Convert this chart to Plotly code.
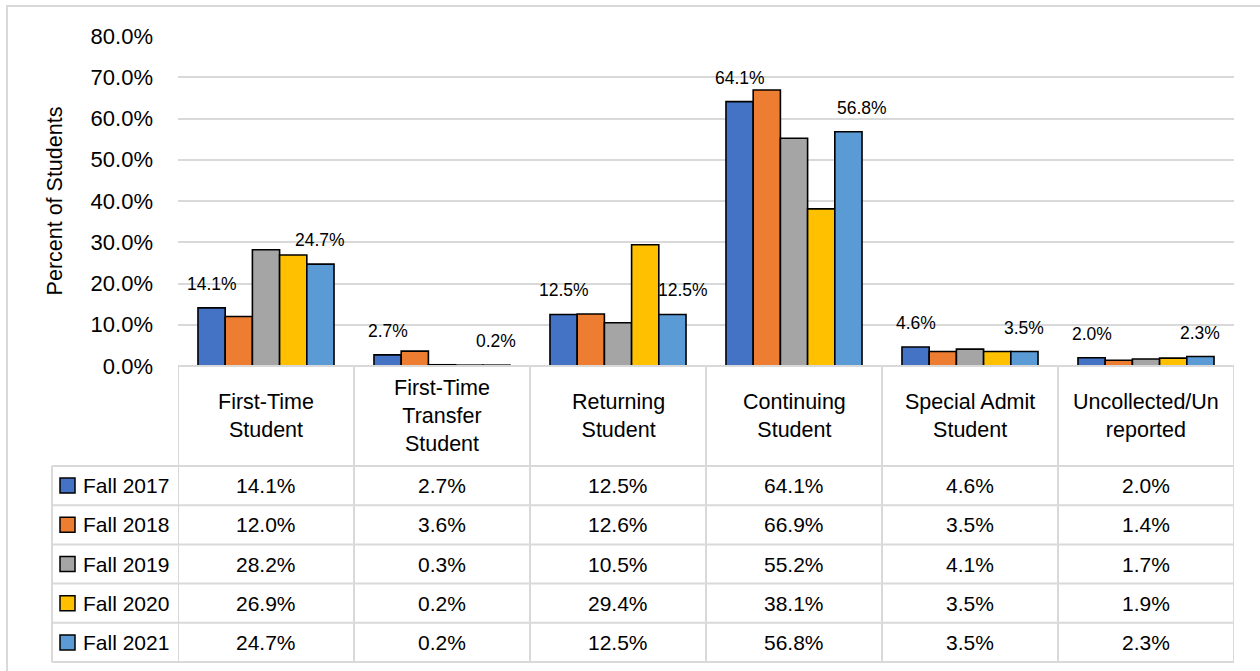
import plotly.graph_objects as go

categories = ["First-Time<br>Student", "First-Time<br>Transfer<br>Student", "Returning<br>Student",
              "Continuing<br>Student", "Special Admit<br>Student", "Uncollected/Un<br>reported"]
series_names = ["Fall 2017", "Fall 2018", "Fall 2019", "Fall 2020", "Fall 2021"]
fall_2017 = [14.1, 2.7, 12.5, 64.1, 4.6, 2.0]
fall_2018 = [12.0, 3.6, 12.6, 66.9, 3.5, 1.4]
fall_2019 = [28.2, 0.3, 10.5, 55.2, 4.1, 1.7]
fall_2020 = [26.9, 0.2, 29.4, 38.1, 3.5, 1.9]
fall_2021 = [24.7, 0.2, 12.5, 56.8, 3.5, 2.3]
series_values = [fall_2017, fall_2018, fall_2019, fall_2020, fall_2021]
colors = ["#4472C4", "#ED7D31", "#A5A5A5", "#FFC000", "#5B9BD5"]
labelled_series = [0, 4]
# small horizontal nudges for Fall 2021 labels (px), style only
label_xnudge_2021 = [0, 0, 11, 14, 0, 0]

FONT = "Liberation Sans, Arial, sans-serif"
W, H = 1260, 671
L, R, T, B = 178, 1234, 36, 366  # plot area in px
BARGAP = 0.227
n = len(categories)
xs = list(range(n))

def py(p):  # pixel y -> paper y
    return (B - p) / (B - T)

def px(p):  # pixel x -> paper x
    return (p - L) / (R - L)

fig = go.Figure()
for s, (name, vals, col) in enumerate(zip(series_names, series_values, colors)):
    fig.add_trace(go.Bar(x=xs, y=vals, name=name, marker=dict(color=col, line=dict(color="#000000", width=1.6)),
                         showlegend=False, hoverinfo="y"))

annotations = []
shapes = []
bw = (1 - BARGAP) / len(series_names)
for s in labelled_series:
    for i, v in enumerate(series_values[s]):
        annotations.append(dict(x=i + (s - 2) * bw, y=v, xref="x", yref="y", text=f"{v:.1f}%",
                                showarrow=False, yanchor="bottom", yshift=12,
                                xshift=label_xnudge_2021[i] if s == 4 else 0,
                                font=dict(size=17.5, family=FONT, color="#000")))

grid = "#d9d9d9"
TXT = 21
# table geometry (px)
header_top, header_bot = 366, 466
row_h = 39.2
rows_y = [header_bot + k * row_h for k in range(len(series_names) + 1)]
leg_left = 52

# horizontal lines
shapes.append(dict(type="line", xref="paper", yref="paper", x0=px(L), x1=px(R), y0=py(header_top), y1=py(header_top),
                   line=dict(color=grid, width=2)))
for yy in rows_y:
    shapes.append(dict(type="line", xref="paper", yref="paper", x0=px(leg_left), x1=px(R), y0=py(yy), y1=py(yy),
                       line=dict(color=grid, width=2)))
# vertical lines
for i in range(n + 1):
    shapes.append(dict(type="line", xref="x", yref="paper", x0=i - 0.5, x1=i - 0.5, y0=py(header_top), y1=py(rows_y[-1]),
                       line=dict(color=grid, width=2)))
shapes.append(dict(type="line", xref="paper", yref="paper", x0=px(leg_left), x1=px(leg_left), y0=py(rows_y[0]), y1=py(rows_y[-1]),
                   line=dict(color=grid, width=2)))
# outer border
shapes.append(dict(type="rect", xref="paper", yref="paper", x0=px(7), x1=px(1275), y0=py(6), y1=py(690),
                   line=dict(color=grid, width=2), layer="below"))

# header text
for i, c in enumerate(categories):
    annotations.append(dict(x=i, y=py((header_top + header_bot) / 2), xref="x", yref="paper", text=c, showarrow=False,
                            yanchor="middle", font=dict(size=21.5, family=FONT, color="#000")))
# rows
for s, (name, vals, col) in enumerate(zip(series_names, series_values, colors)):
    yc = (rows_y[s] + rows_y[s + 1]) / 2
    shapes.append(dict(type="rect", xref="paper", yref="paper", x0=px(60), x1=px(75), y0=py(yc - 7.5), y1=py(yc + 7.5),
                       fillcolor=col, line=dict(color="#000", width=1.5)))
    annotations.append(dict(x=px(81), y=py(yc), xref="paper", yref="paper", text=name, showarrow=False,
                            xanchor="left", yanchor="middle", font=dict(size=TXT, family=FONT, color="#000")))
    for i, v in enumerate(vals):
        annotations.append(dict(x=i, y=py(yc), xref="x", yref="paper", text=f"{v:.1f}%", showarrow=False,
                                yanchor="middle", font=dict(size=TXT, family=FONT, color="#000")))

fig.update_layout(
    width=W, height=H, margin=dict(l=L, r=W - R, t=T, b=H - B),
    paper_bgcolor="white", plot_bgcolor="white",
    barmode="group", bargap=BARGAP, bargroupgap=0,
    font=dict(family=FONT, color="#000"),
    xaxis=dict(range=[-0.5, n - 0.5], showticklabels=False, showgrid=False, zeroline=False, ticks=""),
    yaxis=dict(range=[0, 80], dtick=10, tickformat=".1f", ticksuffix="%", showgrid=True, gridcolor=grid, gridwidth=2,
               zeroline=True, zerolinecolor=grid, zerolinewidth=2, ticks="", ticklabelstandoff=24,
               tickfont=dict(size=22, family=FONT, color="#000"),
               title=dict(text="Percent of Students", font=dict(size=21.5, family=FONT, color="#000"), standoff=22)),
    shapes=shapes, annotations=annotations,
)
fig.write_html("out.html", config={"displayModeBar": False},
               post_script="document.body.style.margin='0';document.body.style.overflow='hidden';")
